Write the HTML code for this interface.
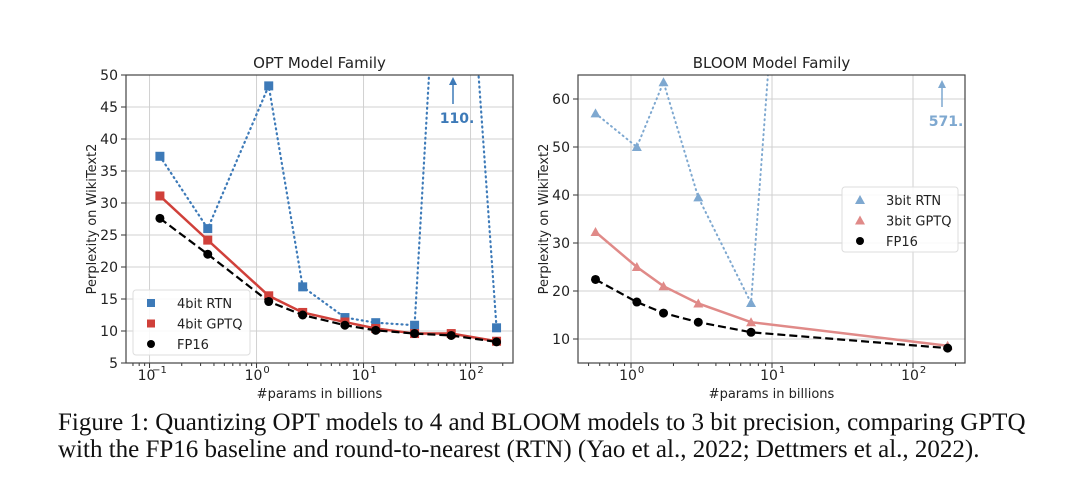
<!DOCTYPE html>
<html><head><meta charset="utf-8"><style>
body{margin:0;background:#fff;width:1080px;height:495px;overflow:hidden;font-family:"DejaVu Sans","Liberation Sans",sans-serif}
#cap{position:absolute;left:58px;top:409px;font-family:"Liberation Serif",serif;font-size:25px;line-height:27px;color:#111;white-space:nowrap}
</style></head><body>
<svg id="svg" width="1080" height="495" style="position:absolute;left:0;top:0"></svg>
<div id="cap">Figure 1: Quantizing OPT models to 4 and BLOOM models to 3 bit precision, comparing GPTQ<br>with the FP16 baseline and round-to-nearest (RTN) (Yao et al., 2022; Dettmers et al., 2022).</div>
<script>
const optParams=[0.125,0.35,1.3,2.7,6.7,13,30,66,175];
const optRTN=[37.3,26,48.3,16.9,12.1,11.3,10.9,110,10.5];
const optGPTQ=[31.1,24.2,15.5,12.9,11.4,10.4,9.6,9.6,8.4];
const optFP16=[27.6,22,14.6,12.5,10.9,10.1,9.6,9.3,8.3];
const optYTicks=[5,10,15,20,25,30,35,40,45,50];
const bloomParams=[0.56,1.1,1.7,3,7.1,176];
const bloomRTN=[57,50,63.5,39.5,17.5,571];
const bloomGPTQ=[32.3,25,21,17.4,13.5,8.6];
const bloomFP16=[22.4,17.7,15.4,13.5,11.4,8.1];
const bloomYTicks=[10,20,30,40,50,60];
const NS='http://www.w3.org/2000/svg';
const svg=document.getElementById('svg');
function el(t,a,p){const e=document.createElementNS(NS,t);for(const k in a)e.setAttribute(k,a[k]);(p||svg).appendChild(e);return e;}
function txt(s,a,p){const e=el('text',a,p);e.textContent=s;return e;}
function chart(o){
 const g=el('g',{});
 
 
 const X=v=>o.x0+(Math.log10(v)-o.lx0)*o.ppd;
 const Y=v=>o.y1-(v-o.ymin)/(o.ymax-o.ymin)*(o.y1-o.y0);
 const clipId='c'+o.name;
 const cp=el('clipPath',{id:clipId},g);el('rect',{x:o.x0,y:o.y0,width:o.x1-o.x0,height:o.y1-o.y0},cp);
 for(let d=o.dmin;d<=o.dmax;d++){const x=X(Math.pow(10,d));
  const gl=el('line',{x1:x,x2:x,y1:o.y0,y2:o.y1,stroke:'#d0d0d0','stroke-width':1},g);
  
  el('line',{x1:x,x2:x,y1:o.y1,y2:o.y1+5,stroke:'#333'},g);
  const t=txt('10',{x:x-3,y:o.y1+17,'font-size':14,'text-anchor':'middle',fill:'#222'},g);
  
  txt(d<0?'\u2212'+(-d):String(d),{x:x+10,y:o.y1+10,'font-size':10,'text-anchor':'middle',fill:'#222'},g);
  for(let m=2;m<10;m++){const xm=X(m*Math.pow(10,d));if(xm>o.x0&&xm<o.x1)el('line',{x1:xm,x2:xm,y1:o.y1,y2:o.y1+3,stroke:'#333'},g);}
 }
 for(let m=2;m<10;m++){const xm=X(m*Math.pow(10,o.dmin-1));if(xm>o.x0)el('line',{x1:xm,x2:xm,y1:o.y1,y2:o.y1+3,stroke:'#333'},g);}
 o.yt.forEach(v=>{const y=Y(v);
  if(v>o.ymin&&v<o.ymax){const gl=el('line',{x1:o.x0,x2:o.x1,y1:y,y2:y,stroke:'#d0d0d0'},g);}
  el('line',{x1:o.x0-5,x2:o.x0,y1:y,y2:y,stroke:'#333'},g);
  const t=txt(String(v),{x:o.x0-8,y:y+5,'font-size':14,'text-anchor':'end',fill:'#222'},g);
  
 });
 const pl=el('g',{'clip-path':'url(#'+clipId+')'},g);
 o.series.forEach(s=>{
  const pts=o.xs.map((x,i)=>X(x)+','+Y(s.v[i])).join(' ');
  const l=el('polyline',{points:pts,fill:'none',stroke:s.lc,'stroke-width':s.w,'stroke-dasharray':s.dash||'none','stroke-linecap':s.dash&&s.dash.startsWith('1')?'round':'butt'},pl);
  
  o.xs.forEach((x,i)=>{const cx=X(x),cy=Y(s.v[i]);let m;
   if(s.m==='sq')m=el('rect',{x:cx-4.5,y:cy-4.5,width:9,height:9,fill:s.c},pl);
   else if(s.m==='tri')m=el('polygon',{points:`${cx},${cy-5} ${cx-5},${cy+4} ${cx+5},${cy+4}`,fill:s.c},pl);
   else m=el('circle',{cx:cx,cy:cy,r:4.5,fill:s.c},pl);
   });
 });
 const fr=el('rect',{x:o.x0,y:o.y0,width:o.x1-o.x0,height:o.y1-o.y0,fill:'none',stroke:'#444','stroke-width':1.2},g);
 
 const ti=txt(o.title,{x:(o.x0+o.x1)/2,y:o.y0-7,'font-size':15,'text-anchor':'middle',fill:'#222'},g);
 
 const xl=txt('#params in billions',{x:(o.x0+o.x1)/2,y:o.y1+35,'font-size':13,'text-anchor':'middle',fill:'#222'},g);
 
 const yl=txt('Perplexity on WikiText2',{transform:`translate(${o.ylx},${(o.y0+o.y1)/2}) rotate(-90)`,'font-size':13,'text-anchor':'middle',fill:'#222'},g);
 
 const an=o.ann;const ag=el('g',{},g);
 
 el('line',{x1:an.x,x2:an.x,y1:an.y+27,y2:an.y+3,stroke:an.c,'stroke-width':1.5},ag);
 el('polygon',{points:`${an.x},${an.y} ${an.x-4},${an.y+8} ${an.x+4},${an.y+8}`,fill:an.c},ag);
 txt(an.t,{x:an.x+4,y:an.y+46,'font-size':14,'font-weight':'bold','text-anchor':'middle',fill:an.c},ag);
 const L=o.leg;const lg=el('g',{},g);
 
 el('rect',{x:L.x,y:L.y,width:L.w,height:65,fill:'#fff','fill-opacity':0.85,stroke:'#ddd',rx:3},lg);
 o.series.forEach((s,i)=>{const cy=L.y+13+i*20.5,cx=L.x+18;let m;
  if(s.m==='sq')m=el('rect',{x:cx-4,y:cy-4,width:8,height:8,fill:s.c},lg);
  else if(s.m==='tri')m=el('polygon',{points:`${cx},${cy-5} ${cx-5},${cy+4} ${cx+5},${cy+4}`,fill:s.c},lg);
  else m=el('circle',{cx:cx,cy:cy,r:4,fill:s.c},lg);
  const t=txt(s.label,{x:L.x+44,y:cy+5,'font-size':13,fill:'#222'},lg);
  });
}
chart({name:'opt-chart',title:'OPT Model Family',x0:126,x1:513,y0:75,y1:363,lx0:-1.22,ppd:107,dmin:-1,dmax:2,ymin:5,ymax:50,yt:optYTicks,ylx:96,xs:optParams,
 series:[{name:'4bit-rtn',label:'4bit RTN',v:optRTN,c:'#3d7ab8',lc:'#3d7ab8',w:2.2,dash:'1 4',m:'sq'},
 {name:'4bit-gptq',label:'4bit GPTQ',v:optGPTQ,c:'#d0403a',lc:'#d0403a',w:2.5,m:'sq'},
 {name:'fp16',label:'FP16',v:optFP16,c:'#000',lc:'#000',w:2.2,dash:'8 4',m:'dot'}],
 ann:{x:453,y:77,t:'110.',c:'#3d7ab8'},leg:{x:133,y:290,w:117}});
chart({name:'bloom-chart',title:'BLOOM Model Family',x0:578,x1:965,y0:75,y1:363,lx0:-0.376,ppd:141,dmin:0,dmax:2,ymin:5,ymax:65,yt:bloomYTicks,ylx:548,xs:bloomParams,
 series:[{name:'3bit-rtn',label:'3bit RTN',v:bloomRTN,c:'#7ea8d0',lc:'#7ea8d0',w:2,dash:'1 4',m:'tri'},
 {name:'3bit-gptq',label:'3bit GPTQ',v:bloomGPTQ,c:'#e08a88',lc:'#e08a88',w:2.5,m:'tri'},
 {name:'fp16',label:'FP16',v:bloomFP16,c:'#000',lc:'#000',w:2.2,dash:'8 4',m:'dot'}],
 ann:{x:942,y:80,t:'571.',c:'#7ea8d0'},leg:{x:842,y:187,w:116}});
</script>
</body></html>
